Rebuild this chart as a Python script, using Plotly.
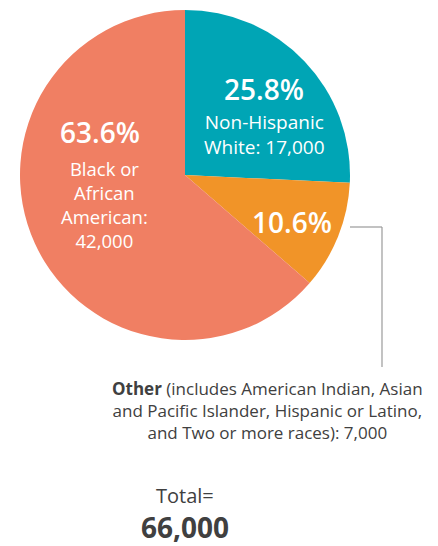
import plotly.graph_objects as go

W, H = 438, 546

groups = ["Non-Hispanic White", "Other", "Black or African American"]
counts = [17000, 7000, 42000]
shares = ["25.8%", "10.6%", "63.6%"]
colors = ["#00A5B5", "#F19428", "#F07F63"]
total = "66,000"

FONT = "Open Sans"
WHITE = "#FFFFFF"
GREY_TXT = "#404040"


def px(x, y):
    return x / W, 1 - y / H


fig = go.Figure()
fig.add_trace(go.Pie(
    labels=groups,
    values=counts,
    sort=False,
    direction="clockwise",
    rotation=0,
    marker=dict(colors=colors, line=dict(width=0)),
    textinfo="none",
    hoverinfo="label+value+percent",
    showlegend=False,
    domain=dict(x=[20 / W, 350 / W], y=[1 - 340 / H, 1 - 10 / H]),
))

annos = []


def note(x, y, text, size, color=WHITE, weight=400):
    ax, ay = px(x, y)
    annos.append(dict(
        x=ax, y=ay, xref="paper", yref="paper",
        text=text,
        showarrow=False, xanchor="center", yanchor="middle", align="center",
        font=dict(family=FONT, size=size, color=color, weight=weight),
    ))


# white
note(264, 89, shares[0], 28, weight=600)
note(264, 134, f"Non-Hispanic<br>White: {counts[0]:,}", 19)

# black
note(100, 132, shares[2], 28, weight=600)
note(104, 204, f"Black or<br>African<br>American:<br>{counts[2]:,}", 18.5)

# other
note(292, 222, shares[1], 28, weight=600)
note(267, 410,
     "<b>Other</b> (includes American Indian, Asian<br>"
     "and Pacific Islander, Hispanic or Latino,<br>"
     f"and Two or more races): {counts[1]:,}", 17, GREY_TXT)

# total
note(185, 495, "Total=", 20, GREY_TXT)
note(185, 527, total, 28, GREY_TXT, weight=700)

x0, y0 = px(350, 227)
x1, y1 = px(382, 227)
x2, y2 = px(382, 367)
shapes = [
    dict(type="line", xref="paper", yref="paper", x0=x0, y0=y0, x1=x1, y1=y1,
         line=dict(color="#9A9A9A", width=1.2)),
    dict(type="line", xref="paper", yref="paper", x0=x1, y0=y1, x1=x2, y1=y2,
         line=dict(color="#9A9A9A", width=1.2)),
]

fig.update_layout(
    width=W, height=H,
    margin=dict(l=0, r=0, t=0, b=0),
    paper_bgcolor="white",
    plot_bgcolor="white",
    annotations=annos,
    shapes=shapes,
)

fig.write_html("out.html", config={"displayModeBar": False},
               post_script="document.body.style.margin='0';")
